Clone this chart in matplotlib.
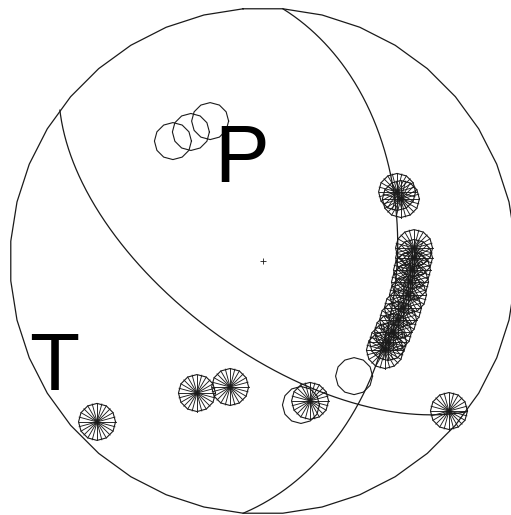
import matplotlib
matplotlib.use('Agg')
import matplotlib.pyplot as plt
import numpy as np

# nodal planes (strike, dip), lower hemisphere, equal-area projection
strikes = [4.5, 126.6]
dips = [46.0, 62.0]

# first-motion polarities, projected positions (east, north) in units of the net radius
comp_x = [0.530, 0.545, 0.597, 0.597, 0.589, 0.581, 0.573, 0.553, 0.534, 0.514,
          0.494, 0.482, -0.261, -0.130, -0.656, 0.186, 0.735]
comp_y = [0.273, 0.245, 0.051, 0.012, -0.036, -0.083, -0.134, -0.186, -0.233, -0.281,
          -0.320, -0.352, -0.522, -0.498, -0.636, -0.553, -0.593]
dil_x = [-0.356, -0.285, -0.209, 0.360, 0.150]
dil_y = [0.474, 0.510, 0.553, -0.455, -0.569]

# axis labels
labels = ['P', 'T']
label_x = [-0.085, -0.826]
label_y = [0.312, -0.510]

W, H = 511, 515
cx, cy, R = 263.0, 261.0, 253.0

fig = plt.figure(figsize=(W / 100.0, H / 100.0), dpi=100)
ax = fig.add_axes([0, 0, 1, 1])
ax.set_xlim(-cx / R, (W - cx) / R)
ax.set_ylim(-(H - cy) / R, cy / R)
ax.axis('off')

col = '#1a1a1a'

# outer circle (40-gon, flat at the top)
a = np.radians(np.arange(94.5, 94.5 + 360.1, 9.0))
ax.plot(np.cos(a), np.sin(a), color=col, lw=0.9)


def plane_curve(strike, dip):
    s = np.radians(strike)
    d = np.radians(dip)
    t = np.radians(np.linspace(0, 180, 361))
    sv = np.array([np.cos(s), np.sin(s), 0.0])
    dv = np.array([np.cos(d) * np.cos(s + np.pi / 2), np.cos(d) * np.sin(s + np.pi / 2), np.sin(d)])
    v = np.outer(np.cos(t), sv) + np.outer(np.sin(t), dv)
    plunge = np.arcsin(np.clip(v[:, 2], -1, 1))
    trend = np.arctan2(v[:, 1], v[:, 0])
    r = np.sqrt(2) * np.sin((np.pi / 2 - plunge) / 2)
    return r * np.sin(trend), r * np.cos(trend)


for s, d in zip(strikes, dips):
    x, y = plane_curve(s, d)
    ax.plot(x, y, color=col, lw=0.9)

rs = 18.5 / R
poly = np.radians(np.linspace(0, 360, 13))
spokes = np.radians(np.arange(0, 180, 15))

for x0, y0 in zip(dil_x, dil_y):
    ax.plot(x0 + rs * np.cos(poly), y0 + rs * np.sin(poly), color=col, lw=0.8)

for x0, y0 in zip(comp_x, comp_y):
    ax.plot(x0 + rs * np.cos(poly), y0 + rs * np.sin(poly), color=col, lw=0.8)
    for sp in spokes:
        ax.plot([x0 - rs * np.cos(sp), x0 + rs * np.cos(sp)],
                [y0 - rs * np.sin(sp), y0 + rs * np.sin(sp)], color=col, lw=0.65)

ax.plot([0], [0], marker='+', color=col, ms=4, mew=0.6)

for lab, x0, y0 in zip(labels, label_x, label_y):
    ax.text(x0, y0, lab, fontsize=59, family='Liberation Sans', ha='center', va='baseline', color='black')

fig.savefig('out.png', dpi=100)
